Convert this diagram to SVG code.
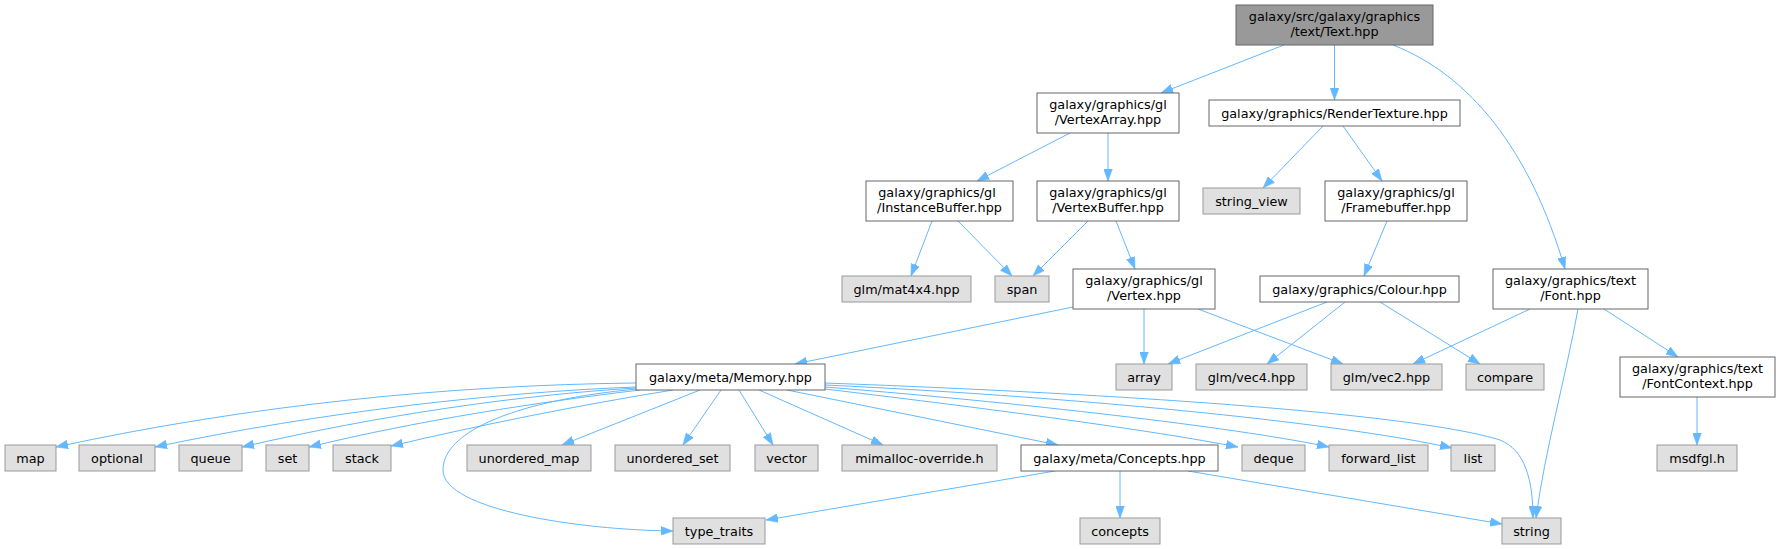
<svg xmlns="http://www.w3.org/2000/svg" width="1780" height="549" viewBox="0 0 1780 549">
<style>
.n rect{fill:#ffffff;stroke:#666666;stroke-width:1}
.g rect{fill:#e0e0e0;stroke:#999999;stroke-width:1}
.r rect{fill:#999999;stroke:#666666;stroke-width:1}
text{font-family:"DejaVu Sans","Liberation Sans",sans-serif;font-size:12.8px;fill:#000000;text-anchor:middle}
#edges path{fill:none;stroke:#63b8ff;stroke-width:1;marker-end:url(#ah)}
</style>
<defs>
<marker id="ah" markerUnits="userSpaceOnUse" markerWidth="12" markerHeight="9" viewBox="0 0 11 8" refX="11" refY="4" orient="auto">
<path d="M0,0 L11,4 L0,8 z" fill="#63b8ff" stroke="#63b8ff" stroke-width="0.5"/>
</marker>
</defs>
<rect width="1780" height="549" fill="#ffffff"/>
<g id="edges">
<path d="M1284,45 L1161,93"/>
<path d="M1334.5,45 L1334.5,100"/>
<path d="M1393,45 C1470,75 1530,150 1565,269"/>
<path d="M1070,133 L977,181"/>
<path d="M1108,133 L1108,181"/>
<path d="M932,221 L911,276"/>
<path d="M958,221 L1012,276"/>
<path d="M1088,221 L1033,276"/>
<path d="M1116,221 L1135,269"/>
<path d="M1323,126 L1263,188"/>
<path d="M1343,126 L1382,181"/>
<path d="M1387,221 L1364,276"/>
<path d="M1327,302 L1168,364"/>
<path d="M1345,302 L1267,364"/>
<path d="M1380,302 L1480,364"/>
<path d="M1144,309 L1144,364"/>
<path d="M1198,309 L1343,364"/>
<path d="M1073,307 L795,364"/>
<path d="M1530,309 L1413,364"/>
<path d="M1604,309 L1678,357"/>
<path d="M1578,309 C1565,380 1545,450 1536,518"/>
<path d="M1697,397 L1697,445"/>
<path d="M636,383 C450,385 250,405 56,447"/>
<path d="M636,387 C500,392 320,412 155,447"/>
<path d="M636,388 C520,395 380,415 242,447"/>
<path d="M640,390 C540,402 420,420 309,447"/>
<path d="M673,390 C580,405 480,425 391,446"/>
<path d="M637,389 C520,400 443,430 443,470 C443,510 580,530 673,531"/>
<path d="M700,390 L562,445"/>
<path d="M721,390 L683,445"/>
<path d="M739,390 L773,445"/>
<path d="M759,390 L883,445"/>
<path d="M787,390 L1058,445"/>
<path d="M825,389 C1000,410 1150,430 1238,447"/>
<path d="M825,387 C1050,405 1250,430 1329,447"/>
<path d="M825,385 C1100,398 1350,425 1452,448"/>
<path d="M825,383 C1150,395 1420,415 1500,440 C1525,450 1533,480 1533,518"/>
<path d="M1055,471 L766,520"/>
<path d="M1120,471 L1120,518"/>
<path d="M1188,471 L1502,524"/>
</g>
<g id="node_text" class="r"><rect x="1236" y="5" width="197" height="40"/><text x="1334.5" y="20.5">galaxy/src/galaxy/graphics</text><text x="1334.5" y="35.5">/text/Text.hpp</text></g>
<g id="node_vertexarray" class="n"><rect x="1037" y="93" width="142" height="40"/><text x="1108" y="108.5">galaxy/graphics/gl</text><text x="1108" y="123.5">/VertexArray.hpp</text></g>
<g id="node_rendertexture" class="n"><rect x="1209" y="100" width="251" height="26"/><text x="1334.5" y="117.5">galaxy/graphics/RenderTexture.hpp</text></g>
<g id="node_instancebuffer" class="n"><rect x="866" y="181" width="147" height="40"/><text x="937" y="196.5">galaxy/graphics/gl</text><text x="939.5" y="211.5">/InstanceBuffer.hpp</text></g>
<g id="node_vertexbuffer" class="n"><rect x="1037" y="181" width="142" height="40"/><text x="1108" y="196.5">galaxy/graphics/gl</text><text x="1108" y="211.5">/VertexBuffer.hpp</text></g>
<g id="node_string_view" class="g"><rect x="1203" y="188" width="97" height="26"/><text x="1251.5" y="205.5">string_view</text></g>
<g id="node_framebuffer" class="n"><rect x="1325" y="181" width="142" height="40"/><text x="1396" y="196.5">galaxy/graphics/gl</text><text x="1396" y="211.5">/Framebuffer.hpp</text></g>
<g id="node_mat4x4" class="g"><rect x="842" y="276" width="129" height="26"/><text x="906.5" y="293.5">glm/mat4x4.hpp</text></g>
<g id="node_span" class="g"><rect x="995" y="276" width="54" height="26"/><text x="1022" y="293.5">span</text></g>
<g id="node_vertex" class="n"><rect x="1073" y="269" width="142" height="40"/><text x="1144" y="284.5">galaxy/graphics/gl</text><text x="1144" y="299.5">/Vertex.hpp</text></g>
<g id="node_colour" class="n"><rect x="1260" y="276" width="199" height="26"/><text x="1359.5" y="293.5">galaxy/graphics/Colour.hpp</text></g>
<g id="node_font" class="n"><rect x="1493" y="269" width="155" height="40"/><text x="1570.5" y="284.5">galaxy/graphics/text</text><text x="1570.5" y="299.5">/Font.hpp</text></g>
<g id="node_memory" class="n"><rect x="636" y="364" width="189" height="26"/><text x="730.5" y="381.5">galaxy/meta/Memory.hpp</text></g>
<g id="node_array" class="g"><rect x="1116" y="364" width="56" height="26"/><text x="1144" y="381.5">array</text></g>
<g id="node_vec4" class="g"><rect x="1196" y="364" width="111" height="26"/><text x="1251.5" y="381.5">glm/vec4.hpp</text></g>
<g id="node_vec2" class="g"><rect x="1331" y="364" width="111" height="26"/><text x="1386.5" y="381.5">glm/vec2.hpp</text></g>
<g id="node_compare" class="g"><rect x="1466" y="364" width="78" height="26"/><text x="1505" y="381.5">compare</text></g>
<g id="node_fontcontext" class="n"><rect x="1620" y="357" width="155" height="40"/><text x="1697.5" y="372.5">galaxy/graphics/text</text><text x="1697.5" y="387.5">/FontContext.hpp</text></g>
<g id="node_map" class="g"><rect x="5" y="445" width="51" height="26"/><text x="30.5" y="462.5">map</text></g>
<g id="node_optional" class="g"><rect x="79" y="445" width="76" height="26"/><text x="117" y="462.5">optional</text></g>
<g id="node_queue" class="g"><rect x="179" y="445" width="63" height="26"/><text x="210.5" y="462.5">queue</text></g>
<g id="node_set" class="g"><rect x="266" y="445" width="43" height="26"/><text x="287.5" y="462.5">set</text></g>
<g id="node_stack" class="g"><rect x="333" y="445" width="58" height="26"/><text x="362" y="462.5">stack</text></g>
<g id="node_unordered_map" class="g"><rect x="467" y="445" width="124" height="26"/><text x="529" y="462.5">unordered_map</text></g>
<g id="node_unordered_set" class="g"><rect x="615" y="445" width="115" height="26"/><text x="672.5" y="462.5">unordered_set</text></g>
<g id="node_vector" class="g"><rect x="755" y="445" width="63" height="26"/><text x="786.5" y="462.5">vector</text></g>
<g id="node_mimalloc" class="g"><rect x="842" y="445" width="155" height="26"/><text x="919.5" y="462.5">mimalloc-override.h</text></g>
<g id="node_concepts_hpp" class="n"><rect x="1021" y="445" width="197" height="26"/><text x="1119.5" y="462.5">galaxy/meta/Concepts.hpp</text></g>
<g id="node_deque" class="g"><rect x="1242" y="445" width="63" height="26"/><text x="1273.5" y="462.5">deque</text></g>
<g id="node_forward_list" class="g"><rect x="1329" y="445" width="99" height="26"/><text x="1378.5" y="462.5">forward_list</text></g>
<g id="node_list" class="g"><rect x="1451" y="445" width="44" height="26"/><text x="1473" y="462.5">list</text></g>
<g id="node_msdfgl" class="g"><rect x="1657" y="445" width="80" height="26"/><text x="1697" y="462.5">msdfgl.h</text></g>
<g id="node_type_traits" class="g"><rect x="673" y="518" width="92" height="26"/><text x="719" y="535.5">type_traits</text></g>
<g id="node_concepts" class="g"><rect x="1080" y="518" width="80" height="26"/><text x="1120" y="535.5">concepts</text></g>
<g id="node_string" class="g"><rect x="1502" y="518" width="59" height="26"/><text x="1531.5" y="535.5">string</text></g>
</svg>
